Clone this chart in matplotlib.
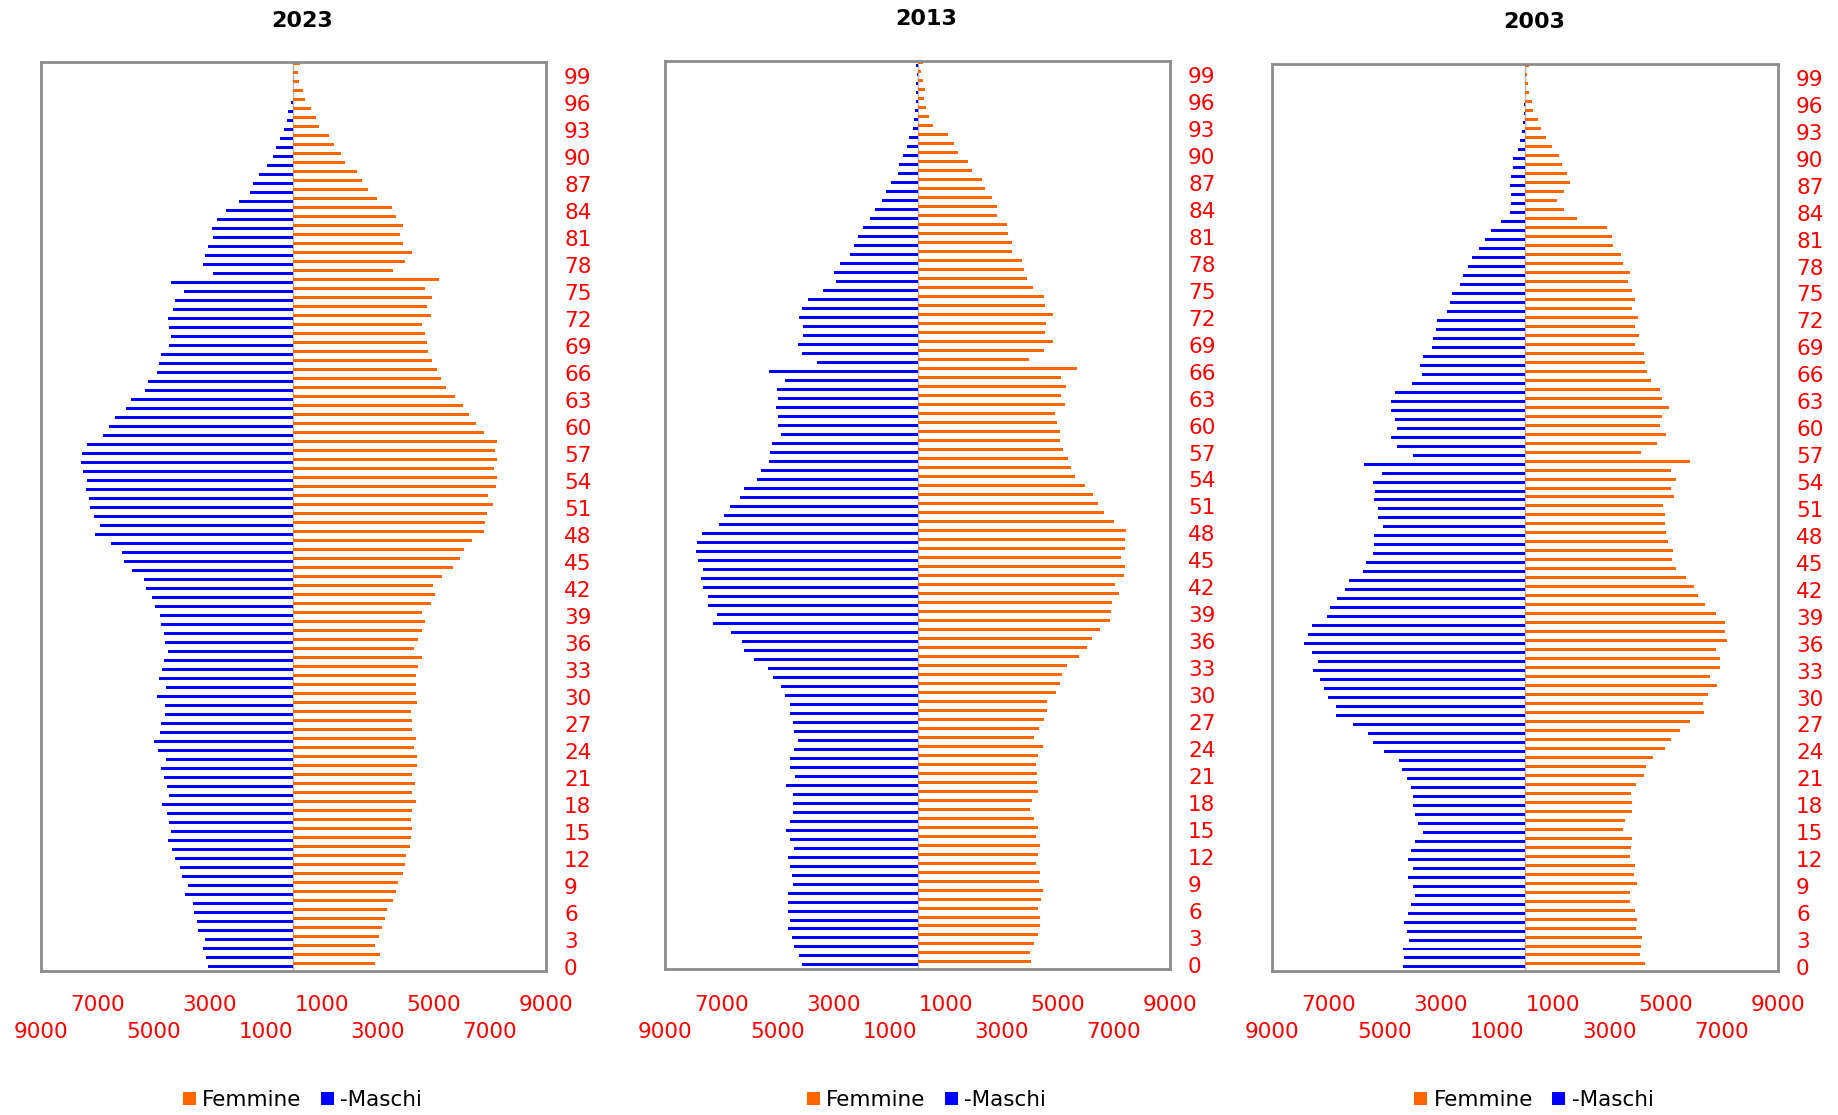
import numpy as np
import matplotlib
matplotlib.use("Agg")
import matplotlib.pyplot as plt
from matplotlib.transforms import blended_transform_factory

# eta' 0..100
eta = np.arange(0, 101)

femmine_2023 = [2890, 3070, 2890, 3030, 3150, 3250, 3350, 3530, 3640, 3710,
                3920, 3960, 4000, 4140, 4180, 4210, 4180, 4240, 4350, 4240,
                4320, 4210, 4390, 4390, 4280, 4350, 4240, 4210, 4180, 4390,
                4350, 4350, 4350, 4450, 4570, 4280, 4450, 4570, 4670, 4590,
                4890, 5030, 4990, 5300, 5700, 5950, 6090, 6370, 6800, 6840,
                6900, 7120, 6940, 7230, 7260, 7160, 7260, 7200, 7260, 6800,
                6520, 6270, 6050, 5770, 5420, 5240, 5130, 4950, 4810, 4750,
                4670, 4570, 4890, 4770, 4920, 4670, 5170, 3530, 3960, 4210,
                3920, 3780, 3920, 3640, 3500, 2970, 2640, 2440, 2260, 1830,
                1690, 1430, 1260, 900, 800, 620, 410, 330, 190, 170,
                230]
maschi_2023 = [3030, 3130, 3210, 3170, 3410, 3450, 3530, 3590, 3880, 3770,
               3990, 4060, 4240, 4340, 4480, 4380, 4450, 4520, 4700, 4420,
               4520, 4630, 4730, 4560, 4840, 4990, 4770, 4730, 4590, 4590,
               4870, 4560, 4810, 4700, 4630, 4480, 4590, 4630, 4730, 4770,
               4950, 5050, 5270, 5340, 5760, 6050, 6120, 6510, 7080, 6900,
               7120, 7260, 7300, 7400, 7360, 7500, 7580, 7540, 7360, 6790,
               6590, 6370, 5980, 5800, 5300, 5170, 4870, 4810, 4730, 4420,
               4380, 4420, 4460, 4280, 4240, 3920, 4380, 2860, 3240, 3170,
               3060, 2860, 2920, 2740, 2420, 1930, 1540, 1430, 1220, 930,
               720, 610, 470, 330, 220, 190, 80, 30, 30, 20,
               30]

femmine_2013 = [4060, 4020, 4160, 4300, 4370, 4370, 4300, 4410, 4480, 4340,
                4370, 4230, 4300, 4370, 4230, 4300, 4160, 4020, 4090, 4300,
                4270, 4270, 4230, 4300, 4480, 4160, 4340, 4510, 4630, 4630,
                4950, 5080, 5160, 5340, 5760, 6050, 6230, 6510, 6860, 6900,
                6940, 7180, 7040, 7360, 7400, 7260, 7400, 7400, 7440, 7000,
                6650, 6430, 6250, 5970, 5620, 5480, 5360, 5190, 5080, 5080,
                4980, 4910, 5260, 5120, 5300, 5120, 5690, 3980, 4510, 4830,
                4550, 4590, 4830, 4550, 4510, 4120, 3920, 3800, 3740, 3380,
                3380, 3230, 3200, 2850, 2850, 2670, 2420, 2310, 1960, 1810,
                1450, 1310, 1090, 560, 420, 320, 240, 280, 200, 140,
                200]
maschi_2013 = [4130, 4210, 4390, 4490, 4630, 4530, 4600, 4600, 4630, 4450,
               4490, 4530, 4630, 4390, 4560, 4670, 4530, 4420, 4450, 4450,
               4700, 4350, 4560, 4560, 4390, 4270, 4390, 4420, 4530, 4530,
               4740, 4880, 5140, 5340, 5810, 6170, 6270, 6660, 7300, 7160,
               7450, 7450, 7630, 7730, 7630, 7830, 7910, 7870, 7690, 7060,
               6880, 6700, 6340, 6200, 5730, 5590, 5310, 5240, 5200, 4880,
               4960, 4960, 5060, 4980, 5020, 4740, 5310, 3600, 4130, 4270,
               4070, 4070, 4210, 4130, 3890, 3360, 2920, 2960, 2750, 2390,
               2250, 2110, 1930, 1680, 1500, 1280, 1110, 930, 710, 650,
               510, 360, 290, 150, 110, 80, 40, 40, 40, 10,
               40]

femmine_2003 = [4260, 4080, 4120, 4160, 3940, 3980, 3910, 3730, 3730, 3980,
                3870, 3910, 3730, 3770, 3800, 3490, 3550, 3800, 3800, 3770,
                3940, 4220, 4300, 4550, 4970, 5190, 5510, 5860, 6360, 6340,
                6510, 6830, 6580, 6930, 6930, 6790, 7190, 7110, 7110, 6790,
                6400, 6160, 6000, 5720, 5370, 5230, 5270, 5090, 5010, 4970,
                4970, 4910, 5290, 5190, 5370, 5190, 5860, 4120, 4690, 5010,
                4800, 4870, 5110, 4870, 4800, 4480, 4340, 4260, 4220, 3910,
                4050, 3910, 4020, 3800, 3910, 3800, 3660, 3730, 3490, 3410,
                3130, 3090, 2910, 1840, 1370, 1130, 1370, 1590, 1490, 1310,
                1200, 950, 740, 560, 460, 280, 240, 130, 100, 60,
                130]
maschi_2003 = [4330, 4290, 4350, 4110, 4210, 4290, 4150, 4070, 3930, 3990,
               4170, 3970, 4150, 4070, 3930, 3640, 3790, 3930, 3970, 3970,
               4070, 4210, 4390, 4500, 5000, 5420, 5570, 6110, 6740, 6740,
               7020, 7140, 7310, 7530, 7380, 7590, 7850, 7730, 7560, 7060,
               6920, 6700, 6420, 6250, 5780, 5670, 5420, 5360, 5360, 5060,
               5220, 5240, 5360, 5320, 5390, 5100, 5710, 3970, 4570, 4750,
               4570, 4610, 4780, 4780, 4610, 4030, 3680, 3750, 3640, 3320,
               3260, 3180, 3140, 2790, 2680, 2610, 2330, 2210, 2040, 1900,
               1650, 1440, 1220, 870, 550, 510, 510, 550, 510, 430,
               410, 250, 180, 110, 80, 40, 40, 10, 10, 10,
               10]

anni = ["2023", "2013", "2003"]
femmine = [femmine_2023, femmine_2013, femmine_2003]
maschi = [maschi_2023, maschi_2013, maschi_2003]

x_ticks = np.arange(-9000, 9001, 2000)
eta_ticks = eta[:100:3]

ARANCIO = "#FF6600"
BLU = "#0000FF"
ROSSO = "#FF0000"
GRIGIO = "#8c8c8c"

plt.rcParams["font.family"] = ["DejaVu Sans"]

W, H = 1838, 1115
fig = plt.figure(figsize=(W / 100, H / 100), dpi=100)

# riquadri in pixel: sinistra, alto, destra, basso, y del titolo
riquadri = [(41, 62, 546, 971, 21), (665, 61, 1170, 969, 19), (1272, 64, 1778, 971, 22)]

for i, anno in enumerate(anni):
    x0, y0, x1, y1, yt = riquadri[i]
    ax = fig.add_axes([x0 / W, 1 - y1 / H, (x1 - x0) / W, (y1 - y0) / H])

    bf = ax.barh(eta + 1 / 3, femmine[i], height=1 / 3, color=ARANCIO, label="Femmine", zorder=2)
    bm = ax.barh(eta, -np.array(maschi[i]), height=1 / 3, color=BLU, label="-Maschi", zorder=2)
    ax.axvline(0, color="#b4b4b4", lw=1, zorder=1)

    ax.set_xlim(-9000, 9000)
    ax.set_ylim(-0.45, 100.55)
    ax.set_xticks([])
    ax.yaxis.tick_right()
    ax.set_yticks(eta_ticks)
    ax.set_yticklabels([str(e) for e in eta_ticks])
    ax.tick_params(axis="y", length=0, pad=13, labelsize=15.5, labelcolor=ROSSO)

    for s in ax.spines.values():
        s.set_color(GRIGIO)
        s.set_linewidth(2)

    # etichette asse x su due righe sfalsate
    trans = blended_transform_factory(ax.transData, fig.transFigure)
    for k, v in enumerate(x_ticks):
        yy = 1 - 1032 / H if k % 2 == 0 else 1 - 1005 / H
        ax.text(v, yy, str(abs(v)), transform=trans, ha="center", va="center",
                color=ROSSO, fontsize=15.5, clip_on=False)

    cx = (x0 + x1) / 2 + 9
    fig.text(cx / W, 1 - yt / H, anno, ha="center", va="center",
             fontsize=16, fontweight="bold", color="black")

    ax.legend(handles=[bf, bm], loc="center", bbox_to_anchor=(cx / W, 1 - 1100 / H),
              bbox_transform=fig.transFigure, ncol=2, frameon=False, fontsize=15.5,
              handlelength=0.6, handleheight=0.6, handletextpad=0.3,
              columnspacing=0.9, borderpad=0, borderaxespad=0)

fig.savefig("out.png", dpi=100)
